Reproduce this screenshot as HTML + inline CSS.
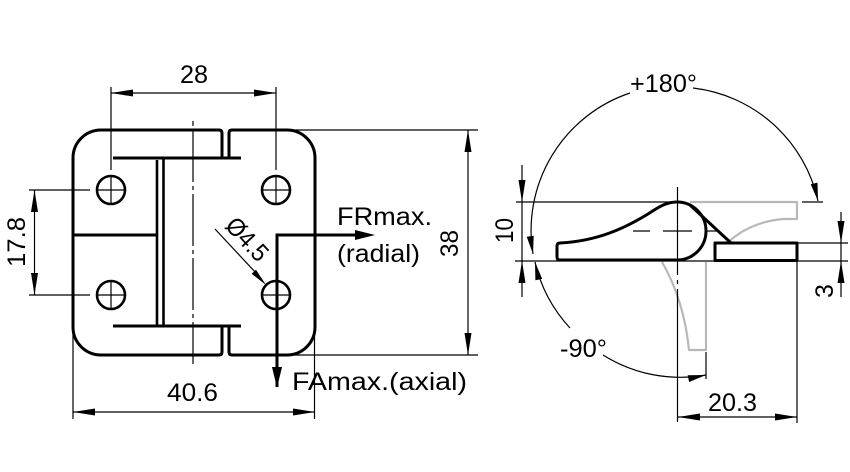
<!DOCTYPE html>
<html><head><meta charset="utf-8"><style>
html,body{margin:0;padding:0;background:#fff;}
svg{display:block;}
text{font-family:"Liberation Sans",sans-serif;font-size:25px;fill:#000;}
</style></head><body>
<svg width="850" height="472" viewBox="0 0 850 472" xmlns="http://www.w3.org/2000/svg">
<rect width="850" height="472" fill="#fff"/>
<g fill="none" stroke="#000" stroke-linecap="butt">
<!-- LEFT VIEW outline -->
<g stroke-width="3" stroke-linejoin="round">
<path d="M222,158 L222,133 Q222,130 219,130 L101,130 A28,28 0 0 0 73,158 L73,327 A28,28 0 0 0 101,355 L219,355 Q222,355 222,352 L222,326"/>
<path d="M229,158 L229,133 Q229,130 232,130 L287,130 A28,28 0 0 1 315,158 L315,327 A28,28 0 0 1 287,355 L232,355 Q229,355 229,352 L229,326"/>
<line x1="113" y1="158" x2="241" y2="158"/>
<line x1="113" y1="326" x2="241" y2="326"/>
<line x1="73" y1="235" x2="158" y2="235"/>
</g>
<g stroke-width="2.6">
<line x1="157" y1="160" x2="157" y2="326"/>
<line x1="163.5" y1="158" x2="163.5" y2="326"/>
<circle cx="111" cy="190" r="14"/>
<circle cx="276" cy="190" r="14"/>
<circle cx="111" cy="295" r="14"/>
<circle cx="276" cy="295" r="14"/>
</g>
<g stroke-width="1.2">
<line x1="97" y1="190" x2="125" y2="190"/><line x1="111" y1="176" x2="111" y2="204"/>
<line x1="262" y1="190" x2="290" y2="190"/><line x1="276" y1="176" x2="276" y2="204"/>
<line x1="97" y1="295" x2="125" y2="295"/><line x1="111" y1="281" x2="111" y2="309"/>
<line x1="262" y1="295" x2="290" y2="295"/>
<!-- centerline -->
<line x1="193" y1="121" x2="193" y2="364" stroke-dasharray="5 4 52 4 4 4 52 4 4 4 52 4 4 4 52 4 4 4"/>
<!-- dim 28 -->
<line x1="111" y1="87" x2="111" y2="170"/><line x1="276" y1="87" x2="276" y2="170"/>
<line x1="111" y1="93" x2="276" y2="93"/>
<!-- dim 40.6 -->
<line x1="73" y1="328" x2="73" y2="419"/><line x1="314.5" y1="328" x2="314.5" y2="419"/>
<line x1="73" y1="412" x2="315" y2="412"/>
<!-- dim 17.8 -->
<line x1="29" y1="190" x2="90" y2="190"/><line x1="29" y1="295" x2="90" y2="295"/>
<line x1="34.5" y1="190" x2="34.5" y2="295"/>
<!-- dim 38 -->
<line x1="288" y1="130" x2="478" y2="130"/><line x1="288" y1="355" x2="478" y2="355"/>
<line x1="468" y1="130" x2="468" y2="355"/>
<!-- leader -->
<line x1="215" y1="229" x2="256" y2="273"/>
</g>
<!-- force arrows -->
<g stroke-width="3">
<polyline points="277,387 277,235 358,235" stroke-linejoin="miter"/>
</g>
</g>
<g fill="#000" stroke="none">
<polygon points="375,235 355,230 355,240"/>
<polygon points="277,388 272,367 282,367"/>
<polygon points="111,93 133,89.5 133,96.5"/><polygon points="276,93 254,89.5 254,96.5"/>
<polygon points="73,412 95,408.5 95,415.5"/><polygon points="315,412 293,408.5 293,415.5"/>
<polygon points="34.5,190 31,212 38,212"/><polygon points="34.5,295 31,273 38,273"/>
<polygon points="468,130 464.5,152 471.5,152"/><polygon points="468,355 464.5,333 471.5,333"/>
<polygon points="266,285 251.6,273.8 256,269.8"/>
</g>
<!-- left texts -->
<text x="194" y="83" text-anchor="middle" textLength="28" lengthAdjust="spacingAndGlyphs">28</text>
<text x="192.5" y="401" text-anchor="middle" textLength="51" lengthAdjust="spacingAndGlyphs">40.6</text>
<text transform="translate(25,242) rotate(-90)" x="0" y="0" text-anchor="middle" textLength="50" lengthAdjust="spacingAndGlyphs">17.8</text>
<text transform="translate(458,243.5) rotate(-90)" x="0" y="0" text-anchor="middle" textLength="27" lengthAdjust="spacingAndGlyphs">38</text>
<text x="337" y="225" textLength="95" lengthAdjust="spacingAndGlyphs">FRmax.</text>
<text x="337" y="262" textLength="83" lengthAdjust="spacingAndGlyphs">(radial)</text>
<text x="292" y="390" textLength="175" lengthAdjust="spacingAndGlyphs">FAmax.(axial)</text>
<text transform="translate(241,245) rotate(47)" x="0" y="0" text-anchor="middle" textLength="50" lengthAdjust="spacingAndGlyphs">Ø4.5</text>

<!-- RIGHT VIEW -->
<g fill="none">
<!-- gray leaves -->
<g stroke="#b8b8b8" stroke-width="2.2" stroke-linejoin="round">
<path d="M690,202 L797,202 L797,219 L783,219 Q750,222 727,243"/>
<path d="M662,262 Q684,300 689,350 L706,350 L706,262"/>
</g>
<g stroke="#000" stroke-width="1.2">
<line x1="516" y1="202" x2="682" y2="202"/>
<line x1="802" y1="202" x2="823" y2="202"/>
<line x1="515" y1="261" x2="848" y2="261"/>
<line x1="797" y1="243" x2="848" y2="243"/>
<line x1="522" y1="165" x2="522" y2="297"/>
<line x1="841" y1="212" x2="841" y2="297"/>
<line x1="797" y1="262" x2="797" y2="423"/>
<line x1="706" y1="352" x2="706" y2="379"/>
<line x1="678" y1="417" x2="797" y2="417"/>
<line x1="677.5" y1="187" x2="677.5" y2="422" stroke-dasharray="88 5 4 5 200"/>
<line x1="633" y1="231" x2="650" y2="231"/>
<line x1="663" y1="231" x2="692" y2="231"/>
<line x1="707" y1="231" x2="717" y2="231"/>
<!-- arcs -->
<path d="M533,254 A145,145 0 0 1 630,93"/>
<path d="M693,88 A145,145 0 0 1 818,201"/>
<path d="M535,262 A145,145 0 0 0 570,328"/>
<path d="M603,355 A145,145 0 0 0 706,375"/>
</g>
<g stroke="#000" stroke-width="3" stroke-linejoin="round">
<path d="M677,260 L560,260 Q557,260 557,257 L557,246 Q557,243 560,243 C598,241 625,228 648,214 C660,206 667,202 677,202 A29,29 0 0 1 677,260 Z"/>
<line x1="690" y1="205" x2="731" y2="243"/>
<rect x="715" y="243" width="82" height="17.5"/>
</g>
</g>
<g fill="#000" stroke="none">
<polygon points="533,254 526.7,236.7 533.7,235.7"/>
<polygon points="818,201 810.7,184.2 817.5,182.6"/>
<polygon points="535,262 542.2,278.9 535.4,280.3"/>
<polygon points="706,375 689.1,382 687.7,375.2"/>
<polygon points="522,202 518.5,180 525.5,180"/><polygon points="522,261 518.5,283 525.5,283"/>
<polygon points="841,243 837.5,221 844.5,221"/><polygon points="841,261 837.5,283 844.5,283"/>
<polygon points="678,417 700,413.5 700,420.5"/><polygon points="797,417 775,413.5 775,420.5"/>
</g>
<text x="663.5" y="92" text-anchor="middle" textLength="67" lengthAdjust="spacingAndGlyphs">+180°</text>
<text x="583.5" y="357" text-anchor="middle" textLength="47" lengthAdjust="spacingAndGlyphs">-90°</text>
<text x="732.5" y="411" text-anchor="middle" textLength="49" lengthAdjust="spacingAndGlyphs">20.3</text>
<text transform="translate(513,230.5) rotate(-90)" x="0" y="0" text-anchor="middle" textLength="25" lengthAdjust="spacingAndGlyphs">10</text>
<text transform="translate(833,291) rotate(-90)" x="0" y="0" text-anchor="middle">3</text>
</svg>
</body></html>
